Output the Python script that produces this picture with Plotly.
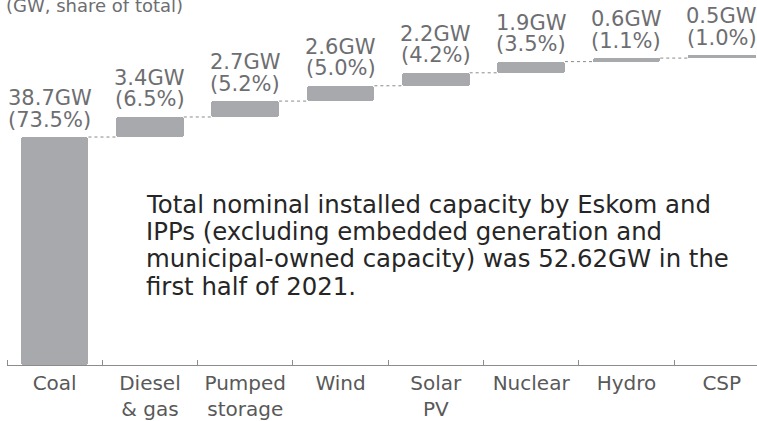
import plotly.graph_objects as go

categories = ["Coal", "Diesel<br>& gas", "Pumped<br>storage", "Wind", "Solar<br>PV", "Nuclear", "Hydro", "CSP"]
capacity_gw = [38.7, 3.4, 2.7, 2.6, 2.2, 1.9, 0.6, 0.5]
share_pct = [73.5, 6.5, 5.2, 5.0, 4.2, 3.5, 1.1, 1.0]
subtitle = "(GW, share of total)"
note_lines = [
    "Total nominal installed capacity by Eskom and",
    "IPPs (excluding embedded generation and",
    "municipal-owned capacity) was 52.62GW in the",
    "first half of 2021.",
]

FONT = "DejaVu Sans"
BAR_COLOR = "#a7a9ac"
LABEL_COLOR = "#6d6e71"

W, H = 757, 421
ML, MR, MT, MB = 7, 0, 0, 56
PLOT_H = H - MT - MB
PLOT_W = W - ML - MR

bases = []
running = 0.0
for v in capacity_gw:
    bases.append(running)
    running += v
tops = [b + v for b, v in zip(bases, capacity_gw)]
idx = list(range(len(categories)))
bar_w = 0.71

fig = go.Figure()
fig.add_trace(go.Bar(
    x=idx, y=capacity_gw, base=bases, width=bar_w,
    marker=dict(color=BAR_COLOR, cornerradius=3, line=dict(width=0)),
    hoverinfo="skip", showlegend=False,
))

shapes = []
for i in range(len(idx) - 1):
    shapes.append(dict(
        type="line", xref="x", yref="y",
        x0=idx[i] + bar_w / 2, x1=idx[i + 1] - bar_w / 2,
        y0=tops[i], y1=tops[i],
        line=dict(color="#8a8a8a", width=1, dash="dot"),
    ))

annotations = []
for i, (t, v, p) in enumerate(zip(tops, capacity_gw, share_pct)):
    xs = -5 if i == 0 else 0
    annotations.append(dict(
        x=idx[i], y=t, xref="x", yref="y", text=f"{v}GW",
        showarrow=False, yanchor="bottom", xanchor="center", yshift=25, xshift=xs,
        font=dict(family=FONT, size=21, color=LABEL_COLOR),
    ))
    annotations.append(dict(
        x=idx[i], y=t, xref="x", yref="y", text=f"({p:.1f}%)",
        showarrow=False, yanchor="bottom", xanchor="center", yshift=3.5, xshift=xs,
        font=dict(family=FONT, size=21, color=LABEL_COLOR),
    ))

annotations.append(dict(
    x=0, y=1, xref="paper", yref="paper", text=subtitle, showarrow=False,
    xanchor="left", yanchor="top", xshift=-3, yshift=7,
    font=dict(family=FONT, size=18, color=LABEL_COLOR),
))

# note text, one annotation per line to get the tight line spacing
for k, line in enumerate(note_lines):
    center_px = 204.5 + 27.2 * k
    annotations.append(dict(
        x=(144 - ML) / PLOT_W, y=1 - (center_px - MT) / PLOT_H,
        xref="paper", yref="paper", text=line,
        showarrow=False, xanchor="left", yanchor="middle", align="left",
        font=dict(family=FONT, size=24.4, color="#262626"),
    ))

fig.update_layout(
    width=W, height=H,
    margin=dict(l=ML, r=MR, t=MT, b=MB),
    paper_bgcolor="white", plot_bgcolor="white",
    shapes=shapes, annotations=annotations,
    bargap=0,
    xaxis=dict(
        range=[-0.5, 7.37], tickmode="array", tickvals=idx, ticktext=categories,
        ticks="", showgrid=False, zeroline=False,
        showline=True, linecolor="#8c8c8c", linewidth=1,
        tickfont=dict(family=FONT, size=20, color="#595959"),
        minor=dict(tick0=-0.5, dtick=1, ticks="inside", ticklen=5,
                   tickcolor="#8c8c8c", showgrid=False),
    ),
    yaxis=dict(range=[0, 61.96], visible=False, showgrid=False, zeroline=False),
)

fig.write_html(
    "out.html",
    config={"displayModeBar": False},
    post_script="document.body.style.margin='0';document.body.style.overflow='hidden';",
)
